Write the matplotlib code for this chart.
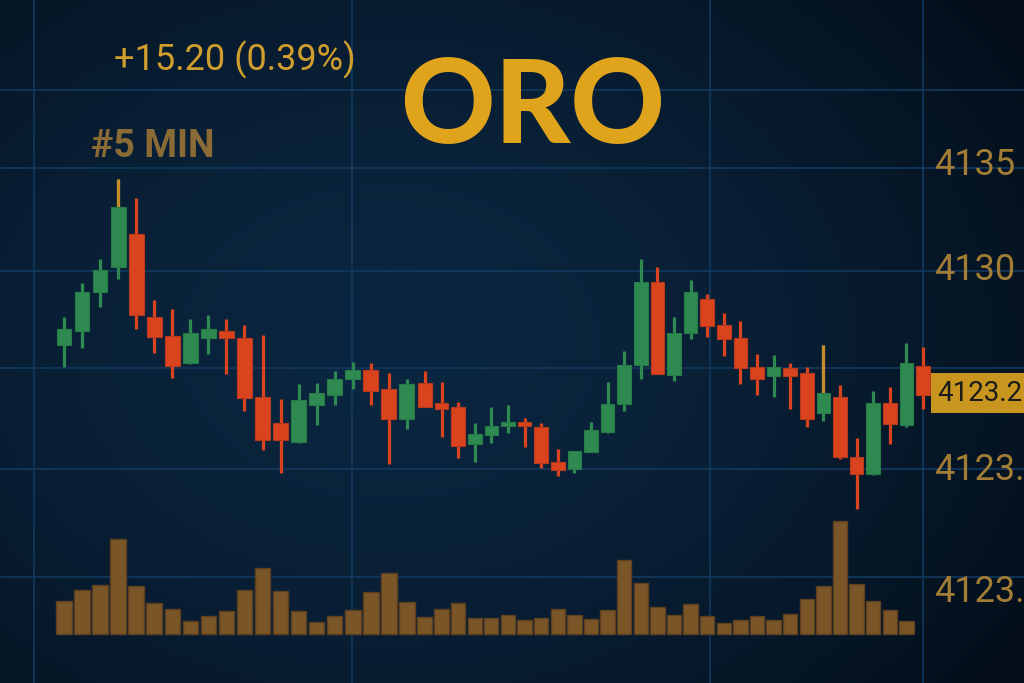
import numpy as np
import matplotlib
matplotlib.use("Agg")
import matplotlib.pyplot as plt
from matplotlib.transforms import blended_transform_factory

# ---------------- data ----------------
opens = [4126.43, 4127.10, 4128.95, 4130.14, 4131.71, 4127.76, 4126.86, 4125.57, 4126.76, 4127.10,
         4126.76, 4123.95, 4122.71, 4121.81, 4123.57, 4124.05, 4124.81, 4125.24, 4124.33, 4122.90,
         4124.62, 4123.67, 4123.48, 4121.71, 4122.14, 4122.57, 4122.76, 4122.52, 4120.86, 4120.52,
         4121.33, 4122.29, 4123.62, 4125.48, 4129.43, 4125.00, 4127.00, 4128.62, 4127.38, 4126.76,
         4125.38, 4124.95, 4125.33, 4125.10, 4123.19, 4123.95, 4121.10, 4120.29, 4123.67, 4122.62,
         4125.43]
highs = [4127.76, 4129.38, 4130.52, 4134.33, 4133.43, 4128.57, 4128.14, 4127.67, 4127.86, 4127.67,
         4127.38, 4126.90, 4123.86, 4124.57, 4124.62, 4125.19, 4125.62, 4125.57, 4125.10, 4124.81,
         4125.19, 4124.67, 4123.71, 4122.71, 4123.48, 4123.57, 4122.95, 4122.71, 4121.48, 4121.38,
         4122.76, 4124.67, 4126.14, 4130.52, 4130.14, 4127.76, 4129.52, 4128.86, 4127.95, 4127.57,
         4126.00, 4125.95, 4125.57, 4125.38, 4126.43, 4124.52, 4122.00, 4124.24, 4124.43, 4126.52,
         4126.33]
lows = [4125.38, 4126.29, 4128.24, 4129.57, 4127.19, 4126.05, 4124.86, 4125.52, 4126.00, 4125.05,
        4123.29, 4121.43, 4120.33, 4121.76, 4122.62, 4123.57, 4124.33, 4123.57, 4120.76, 4122.43,
        4123.48, 4122.05, 4121.05, 4120.86, 4121.76, 4122.24, 4121.57, 4120.57, 4120.19, 4120.33,
        4121.33, 4122.24, 4123.29, 4124.81, 4125.05, 4124.71, 4126.71, 4126.81, 4125.90, 4124.57,
        4124.05, 4123.95, 4123.38, 4122.52, 4122.81, 4121.00, 4118.62, 4120.24, 4121.71, 4122.52,
        4123.38]
closes = [4127.19, 4128.95, 4130.00, 4133.00, 4127.86, 4126.81, 4125.43, 4127.00, 4127.19, 4126.76,
          4123.90, 4121.90, 4121.90, 4123.81, 4124.14, 4124.81, 4125.24, 4124.24, 4122.90, 4124.57,
          4123.48, 4123.38, 4121.62, 4122.19, 4122.57, 4122.76, 4122.57, 4120.81, 4120.48, 4121.38,
          4122.38, 4123.62, 4125.48, 4129.43, 4125.05, 4127.00, 4128.95, 4127.33, 4126.71, 4125.33,
          4124.81, 4125.38, 4124.95, 4122.90, 4124.14, 4121.10, 4120.29, 4123.67, 4122.67, 4125.57,
          4124.05]
gold_wick_candles = [3, 44]

volumes = [330, 440, 490, 950, 480, 310, 250, 130, 180, 230,
           440, 660, 430, 230, 120, 180, 240, 420, 610, 320,
           170, 250, 310, 160, 160, 190, 140, 160, 250, 190,
           150, 240, 740, 510, 270, 190, 300, 180, 110, 140,
           180, 140, 200, 350, 480, 1130, 500, 330, 240, 130]

price_label_values = [4135.0, 4130.0, 4124.14, 4120.48, 4114.67]
price_label_texts = ["4135", "4130", "4123.2", "4123.", "4123."]
last_price_index = 2

grid_prices = [4138.57, 4134.86, 4129.95, 4125.33, 4120.52, 4115.38]
grid_times = [-1.66, 15.96, 37.17, 50.0]

title = "ORO"
change_text = "+15.20 (0.39%)"
interval_text = "#5 MIN"

# ---------------- style ----------------
GREEN = "#2f8a52"
GREEN_EDGE = "#287a47"
RED = "#d9441f"
RED_EDGE = "#b93a1a"
GOLD_WICK = "#c98a2a"
VOL = "#7a5527"
VOL_EDGE = "#5b3f1f"
GRID = "#12395e"

# time axis: the session compresses slightly after the 20th bar
KNOT = 20.0
RATE = 0.92


def t_fwd(v):
    v = np.asarray(v, dtype=float)
    return np.where(v <= KNOT, v, KNOT + (v - KNOT) * RATE)


def t_inv(v):
    v = np.asarray(v, dtype=float)
    return np.where(v <= KNOT, v, KNOT + (v - KNOT) / RATE)


fig = plt.figure(figsize=(10.24, 6.83), dpi=100)

# background gradient
ax_bg = fig.add_axes([0, 0, 1, 1])
ax_bg.set_axis_off()
h, w = 683, 1024
yy, xx = np.mgrid[0:h, 0:w]
cx, cy = 0.38 * w, 0.50 * h
d = np.sqrt(((xx - cx) / (0.75 * w)) ** 2 + ((yy - cy) / (0.85 * h)) ** 2)
d = np.clip(d, 0, 1)
c_in = np.array([11, 38, 64]) / 255.0
c_out = np.array([3, 13, 24]) / 255.0
img = c_in[None, None, :] * (1 - d[..., None] ** 1.6) + c_out[None, None, :] * (d[..., None] ** 1.6)
ax_bg.imshow(img, aspect="auto", extent=[0, 1, 0, 1], origin="upper")
ax_bg.set_xlim(0, 1)
ax_bg.set_ylim(0, 1)

XLIM = (-3.546, 56.08)

# main price axes
ax = fig.add_axes([0, 0, 1, 1])
ax.patch.set_alpha(0)
ax.set_xscale("function", functions=(t_fwd, t_inv))
ax.set_xlim(*XLIM)
ax.set_ylim(4110.333, 4142.857)
ax.set_axis_off()

for gp in grid_prices:
    ax.axhline(gp, color=GRID, lw=1.2, zorder=1)
for gt in grid_times:
    ax.axvline(gt, color=GRID, lw=1.2, zorder=1)

x = np.arange(len(opens))
o = np.array(opens); c = np.array(closes); hi = np.array(highs); lo = np.array(lows)
up = c >= o
cols = np.where(up, GREEN, RED)
ecols = np.where(up, GREEN_EDGE, RED_EDGE)
ax.vlines(x, lo, hi, colors=cols, lw=2.3, zorder=3)
for i in gold_wick_candles:
    ax.vlines(x[i], max(o[i], c[i]), hi[i], colors=GOLD_WICK, lw=2.3, zorder=3.5)
ax.bar(x, np.maximum(np.abs(c - o), 0.12), bottom=np.minimum(o, c), width=0.82,
       color=cols, edgecolor=ecols, linewidth=0.8, zorder=4)

# volume axes
axv = fig.add_axes([0, 0, 1, 1])
axv.patch.set_alpha(0)
axv.set_xscale("function", functions=(t_fwd, t_inv))
axv.set_xlim(*XLIM)
axv.set_ylim(-490, 6340)
axv.set_axis_off()
xv = np.arange(len(volumes))
axv.bar(xv, volumes, width=0.86, color=VOL, edgecolor=VOL_EDGE, linewidth=1.0, zorder=3)

# price labels on right
tr = blended_transform_factory(ax.transAxes, ax.transData)
for k, (v, t) in enumerate(zip(price_label_values, price_label_texts)):
    if k == last_price_index:
        ax.text(0.9155, v, t, transform=tr, ha="left", va="center", fontsize=20,
                family=["Roboto", "DejaVu Sans"], color="#1a1a18", zorder=6,
                bbox=dict(boxstyle="square,pad=0.22", fc="#c8961f", ec="none"))
    else:
        ax.text(0.912, v, t, transform=tr, ha="left", va="center", fontsize=26,
                family=["Roboto", "DejaVu Sans"], color="#a37d36", zorder=6)

# headline texts
fig.text(0.391, 0.791, title, ha="left", va="baseline", fontsize=84, fontweight="black",
         family=["Lato", "DejaVu Sans"], color="#e0a31c")
fig.text(0.111, 0.8975, change_text, ha="left", va="baseline", fontsize=26,
         family=["Roboto", "DejaVu Sans"], color="#cf9e2c")
fig.text(0.089, 0.770, interval_text, ha="left", va="baseline", fontsize=27, fontweight="bold",
         family=["Roboto", "DejaVu Sans"], color="#8a6a35")

fig.savefig("out.png", dpi=100)
